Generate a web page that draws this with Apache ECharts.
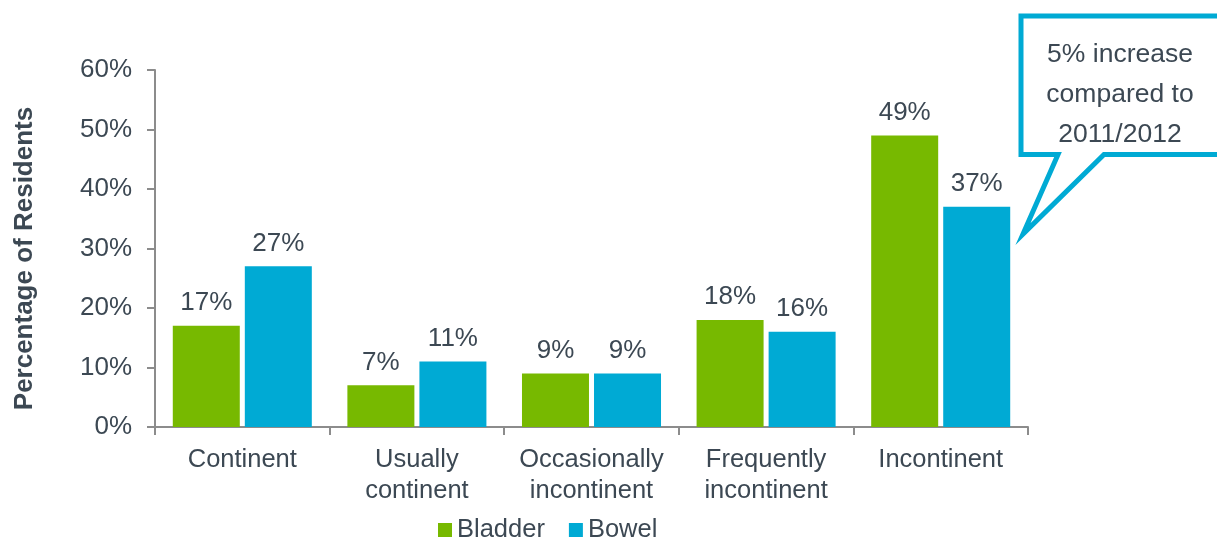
<!DOCTYPE html>
<html>
<head>
<meta charset="utf-8">
<title>Continence of residents</title>
<script src="https://cdn.jsdelivr.net/npm/echarts@6/dist/echarts.min.js"></script>
<style>
  html, body { margin: 0; padding: 0; background: #ffffff; }
  #chart { width: 1217px; height: 539px; }
</style>
</head>
<body>
<div id="chart"></div>
<script>
// Continence status categories (x axis)
const categories = ['Continent', 'Usually\ncontinent', 'Occasionally\nincontinent', 'Frequently\nincontinent', 'Incontinent'];
// Percentage of residents per category
const bladder = [17, 7, 9, 18, 49];
const bowel = [27, 11, 9, 16, 37];
// Y axis range and step (percent)
const yMin = 0;
const yMax = 60;
const yStep = 10;
const calloutText = '5% increase\ncompared to\n2011/2012';

const FONT = "'Liberation Sans', Arial, sans-serif";
const TEXT = '#3c4853';
const AXIS = '#8c8c8c';
const GREEN = '#77b900';
const BLUE = '#00aad4';

const chart = echarts.init(document.getElementById('chart'));

const valueLabel = {
  show: true,
  position: 'top',
  distance: 10,
  formatter: '{c}%',
  color: TEXT,
  fontSize: 26,
  fontFamily: FONT
};

chart.setOption({
  animation: false,
  textStyle: { fontFamily: FONT, color: TEXT },
  grid: { left: 155, right: 189, top: 70, bottom: 112, containLabel: false },
  legend: {
    left: 433,
    top: 512,
    icon: 'rect',
    itemWidth: 14,
    itemHeight: 14,
    itemGap: 24,
    textStyle: { fontSize: 25.5, color: TEXT, fontFamily: FONT },
    data: ['Bladder', 'Bowel']
  },
  xAxis: {
    type: 'category',
    data: categories,
    boundaryGap: true,
    axisLine: { lineStyle: { color: AXIS, width: 2 } },
    axisTick: { show: true, alignWithLabel: false, length: 8, lineStyle: { color: AXIS, width: 2 } },
    axisLabel: { color: TEXT, fontSize: 25.5, lineHeight: 31, margin: 17, fontFamily: FONT, interval: 0 }
  },
  yAxis: {
    type: 'value',
    min: yMin,
    max: yMax,
    interval: yStep,
    name: 'Percentage of Residents',
    nameLocation: 'middle',
    nameRotate: 90,
    nameGap: 117,
    nameTextStyle: { fontSize: 26, fontWeight: 'bold', color: TEXT, fontFamily: FONT, padding: [0, 20, 0, 0] },
    axisLine: { show: true, lineStyle: { color: AXIS, width: 2 } },
    axisTick: { show: true, length: 8, lineStyle: { color: AXIS, width: 2 } },
    splitLine: { show: false },
    axisLabel: { color: TEXT, fontSize: 26, margin: 23, formatter: '{value}%', fontFamily: FONT }
  },
  series: [
    {
      name: 'Bladder',
      type: 'bar',
      data: bladder,
      itemStyle: { color: GREEN },
      barWidth: 67,
      barGap: '7.5%',
      label: valueLabel
    },
    {
      name: 'Bowel',
      type: 'bar',
      data: bowel,
      itemStyle: { color: BLUE },
      barWidth: 67,
      barGap: '7.5%',
      label: valueLabel
    }
  ],
  graphic: [
    {
      type: 'polygon',
      z: 100,
      shape: {
        points: [[1021, 16], [1232, 16], [1232, 154.5], [1104, 154.5], [1023, 234], [1058, 154.5], [1021, 154.5]]
      },
      style: { fill: '#ffffff', stroke: BLUE, lineWidth: 5, lineJoin: 'miter' }
    },
    {
      type: 'text',
      z: 101,
      x: 1120,
      y: 95,
      style: {
        text: calloutText,
        fill: TEXT,
        font: '26.5px ' + FONT,
        lineHeight: 40,
        align: 'center',
        verticalAlign: 'middle'
      }
    }
  ]
});
</script>
</body>
</html>
